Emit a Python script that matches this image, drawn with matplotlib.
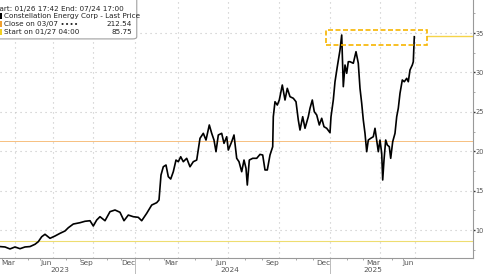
import numpy as np
import matplotlib
matplotlib.use("Agg")
import matplotlib.pyplot as plt
from matplotlib.patches import FancyBboxPatch, Rectangle

# price series (value scale of the chart), sampled along the bar index axis
t = [0, 5, 10, 15, 20, 25, 30, 35, 38.3, 41.7, 45, 50, 55, 60, 65, 68.3, 73.3, 80, 85, 90,
     93.3, 96.7, 100, 105, 110, 115, 120, 124, 128.3, 133.3, 138.3, 141.7, 146.7, 151.7, 156.7, 159,
     161, 163.3, 166, 168.3, 170.7, 173.3, 176, 178.3, 180.7, 183.3, 186.7, 190, 193.3, 196.7,
     200, 203.3, 206, 209.3, 211.7, 214, 216, 218.3, 221.7, 224, 226.7, 228.3, 231.7, 234,
     236.7, 239, 241.7, 244, 246, 247.3, 249.3, 252.7, 256.7, 260, 262.7, 265, 267.3, 270,
     272.7, 273.3, 275, 277.3, 279.3, 282.3, 285, 287.3, 290, 293.3, 296, 298.3, 300, 302.7,
     305, 308.3, 310, 312.3, 314.3, 316.7, 319.3, 321.7, 324, 326.7, 330, 331, 333.3, 335,
     337.3, 340, 341.7, 343.3, 345, 346.7, 348.3, 350, 353.3, 356, 358.3, 360, 361.7, 363.3,
     365, 366.7, 368.3, 370.7, 373.3, 375, 376.7, 378.3, 380, 381.7, 382.7, 384, 385.7, 387.3,
     389.3, 390.7, 392.7, 395, 396.7, 398.3, 400, 402.3, 404.3, 406.7, 408.3, 410, 412.3, 413.3, 414.3]
price = [7.9, 7.85, 7.6, 7.85, 7.63, 7.85, 7.9, 8.19, 8.52, 9.15, 9.46, 8.95, 9.24, 9.58, 9.88, 10.29, 10.76, 10.93, 11.11, 11.18,
         10.51, 11.27, 11.69, 11.18, 12.33, 12.54, 12.25, 11.18, 11.9, 11.69, 11.61, 11.18, 12.12, 13.17, 13.47, 13.81,
         16.98, 18.03, 18.25, 16.77, 16.47, 17.4, 18.88, 18.67, 19.3, 18.67, 19.1, 18.03, 18.67, 18.88,
         21.64, 22.27, 21.42, 23.33, 22.27, 21.42, 19.94, 22.06, 22.27, 21.0, 21.84, 20.15, 21.21, 22.06,
         19.1, 18.67, 17.4, 18.88, 17.83, 15.71, 18.88, 19.1, 19.1, 19.6, 19.52, 17.62, 17.62, 19.52,
         20.57, 24.38, 26.28, 25.86, 26.5, 28.4, 26.5, 27.98, 26.92, 26.72, 26.28, 23.96, 22.69, 24.38,
         22.91, 24.38, 25.45, 26.5, 25.01, 24.6, 23.33, 24.18, 23.11, 22.91, 22.35, 24.38, 26.5, 28.82,
         30.73, 32.84, 34.75, 28.19, 30.94, 29.89, 31.36, 31.36, 31.16, 32.63, 31.16, 27.98, 26.08, 23.96,
         22.27, 19.94, 21.42, 21.64, 21.84, 22.91, 21.42, 19.94, 21.42, 19.74, 16.35, 18.88, 21.42, 20.79,
         20.57, 19.1, 21.21, 22.27, 24.38, 25.45, 27.35, 29.04, 28.82, 29.25, 28.82, 30.31, 30.94, 31.36, 34.53]

close_0307 = 21.25
start_0127 = 8.6
last_price = 34.6

quarter_pos = [15, 53, 93, 135, 178, 228, 279, 330, 380, 415]
month_labels = ["Mar", "Jun", "Sep", "Dec", "Mar", "Jun", "Sep", "Dec", "Mar", "Jun"]
year_labels = ["2023", "2024", "2025"]
year_pos = [60, 230, 373]
year_breaks = [135, 330]
y_ticks = [10, 15, 20, 25, 30, 35]

fig = plt.figure(figsize=(4.85, 2.74), dpi=100)
ax = fig.add_axes([0.0, 16 / 274, 473 / 485, 258 / 274])
ax.set_xlim(0, 473)
ax.set_ylim(6.45, 39.19)

grid_kw = dict(color="#c4c4c4", lw=0.8, ls=(0, (1, 3.5)), zorder=0)
for q in quarter_pos:
    ax.axvline(q, **grid_kw)
for y in y_ticks:
    ax.axhline(y, **grid_kw)

ax.axhline(close_0307, color="#f7c080", lw=0.7, zorder=1)
ax.axhline(start_0127, color="#eedd70", lw=0.8, zorder=1)

ax.plot(t, price, color="black", lw=1.2, zorder=3)

# highlight box around the highs
ax.add_patch(Rectangle((326, 33.5), 101, 1.9, fill=False, ec="#f7b500",
                       lw=1.2, ls=(0, (3, 1.5)), zorder=4))
ax.plot([427, 473], [last_price, last_price], color="#f5d44a", lw=1.0, zorder=2)

for s in ["top", "left"]:
    ax.spines[s].set_visible(False)
for s in ["right", "bottom"]:
    ax.spines[s].set_color("#999999")
    ax.spines[s].set_linewidth(0.8)

ax.yaxis.tick_right()
ax.set_yticks(y_ticks)
ax.set_yticklabels([str(v) for v in y_ticks])
ax.set_yticks(np.arange(7.5, 39, 5), minor=True)
ax.tick_params(axis="y", which="major", length=1.5, width=1, color="#333333",
               labelsize=4.8, labelcolor="#555555", pad=0.5)
ax.tick_params(axis="y", which="minor", length=1.5, width=0.6, color="#999999")

ax.set_xticks([])
minor = []
for a, b in zip([-25] + quarter_pos[:-1], quarter_pos):
    minor += [a + (b - a) / 3, a + 2 * (b - a) / 3]
ax.set_xticks([m for m in minor if 0 < m < 473], minor=True)
ax.tick_params(axis="x", which="minor", length=1.5, width=0.6, color="#999999")

for q, lab in zip(quarter_pos, month_labels):
    ax.text(q - 7, -0.006, lab, transform=ax.get_xaxis_transform(), ha="center", va="top",
            fontsize=5.3, color="#555555")
for x, lab in zip(year_pos, year_labels):
    ax.text(x, -0.033, lab, transform=ax.get_xaxis_transform(), ha="center", va="top",
            fontsize=5.3, color="#555555")
for x in year_breaks:
    ax.plot([x, x], [0, -0.07], transform=ax.get_xaxis_transform(), color="#bbbbbb",
            lw=0.7, clip_on=False)

# legend box
fig.patches.append(FancyBboxPatch((-0.02, 0.858), 0.302, 0.16,
                                  boxstyle="round,pad=0,rounding_size=0.008",
                                  transform=fig.transFigure, fc="white", ec="#a0a0a0", lw=0.8, zorder=5))
fs = 5.2
fig.text(-0.0175, 1 - 9.3 / 274, "Start: 01/26 17:42 End: 07/24 17:00", fontsize=fs,
         va="center", color="#222222", zorder=6)
rows = [("Constellation Energy Corp - Last Price", "", "black"),
        ("Close on 03/07 \u2219\u2219\u2219\u2219", "212.54", "#f0a030"),
        ("Start on 01/27 04:00", "85.75", "#f2d020")]
for i, (lab, val, col) in enumerate(rows):
    yy = 1 - (16 + 8 * i) / 274
    fig.patches.append(Rectangle((0.0, yy - 3 / 274), 2.5 / 485, 6 / 274,
                                 transform=fig.transFigure, fc=col, ec="none", zorder=6))
    fig.text(4 / 485, yy, lab, fontsize=fs, va="center", color="#222222", zorder=6)
    if val:
        fig.text(132 / 485, yy, val, fontsize=fs, va="center", ha="right", color="#222222", zorder=6)

fig.savefig("out.png", dpi=100)
